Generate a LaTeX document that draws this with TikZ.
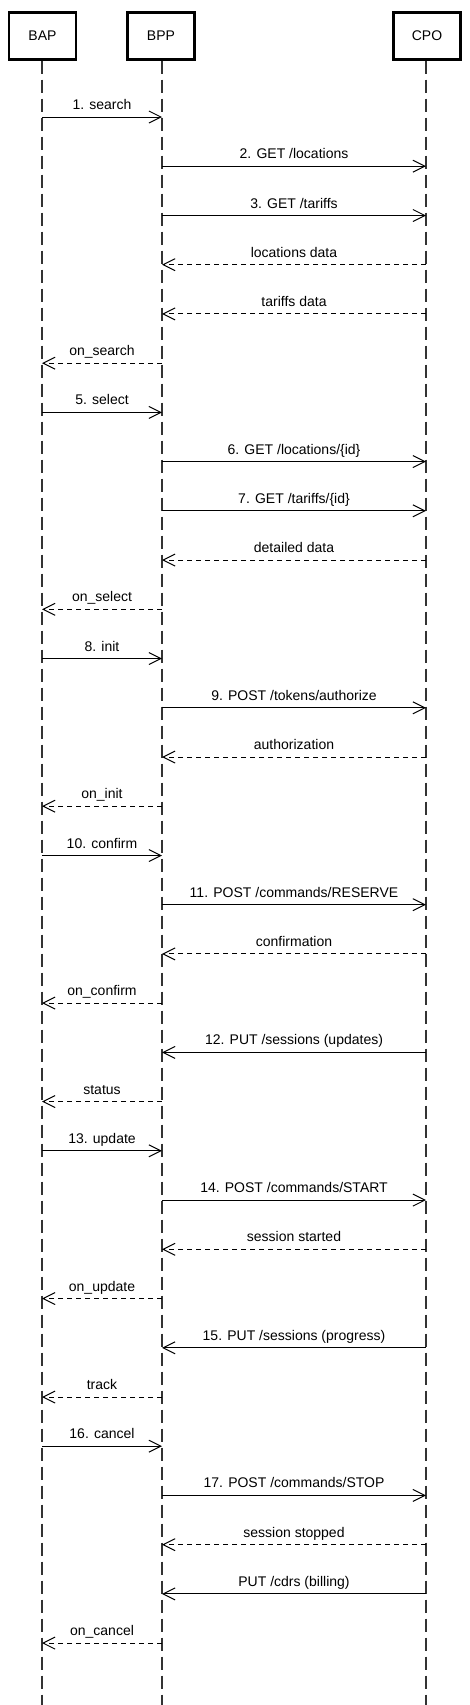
\documentclass[tikz,border=0pt]{standalone}
\usepackage{fontspec}
\setmainfont{Liberation Sans}
\usetikzlibrary{arrows.meta,positioning}

\definecolor{lifegray}{HTML}{333333}

\tikzset{
  actor/.style={draw, line width=2.3pt, minimum width=67pt, minimum height=47pt, inner sep=0pt},
  life/.style={lifegray, line width=1.8pt, dash pattern=on 13pt off 6pt},
  call/.style={line width=1pt, -{Straight Barb[length=12pt,width=12pt]}},
  reply/.style={call, dash pattern=on 5pt off 4pt},
  lbl/.style={midway, above=7pt, inner sep=0pt, text depth=0pt}
}

\begin{document}
\begin{tikzpicture}[x=1pt, y=-1pt, font=\fontsize{14}{16}\selectfont]
        \useasboundingbox (0,0) rectangle (469,1705);

        % participants
        \node[actor] (bap) at (42.5,36) {BAP};
        \node[actor] (bpp) at (161,36) {BPP};
        \node[actor] (cpo) at (427,36) {CPO};

        \coordinate (bapend) at (42,1705);
        \coordinate (bppend) at (162,1705);
        \coordinate (cpoend) at (426,1705);

        \draw[life] (bapend |- bap.south) -- (bapend);
        \draw[life] (bppend |- bpp.south) -- (bppend);
        \draw[life] (cpoend |- cpo.south) -- (cpoend);

        % search
        \draw[call]  (bapend |- 0,117)   -- (bppend |- 0,117)   node[lbl] {1. search};
        \draw[call]  (bppend |- 0,166.2) -- (cpoend |- 0,166.2) node[lbl] {2. GET /locations};
        \draw[call]  (bppend |- 0,215.5) -- (cpoend |- 0,215.5) node[lbl] {3. GET /tariffs};
        \draw[reply] (cpoend |- 0,264.7) -- (bppend |- 0,264.7) node[lbl] {locations data};
        \draw[reply] (cpoend |- 0,313.9) -- (bppend |- 0,313.9) node[lbl] {tariffs data};
        \draw[reply] (bppend |- 0,363.2) -- (bapend |- 0,363.2) node[lbl] {on\_search};

        % select
        \draw[call]  (bapend |- 0,412.4) -- (bppend |- 0,412.4) node[lbl] {5. select};
        \draw[call]  (bppend |- 0,461.6) -- (cpoend |- 0,461.6) node[lbl] {6. GET /locations/\{id\}};
        \draw[call]  (bppend |- 0,510.8) -- (cpoend |- 0,510.8) node[lbl] {7. GET /tariffs/\{id\}};
        \draw[reply] (cpoend |- 0,560.1) -- (bppend |- 0,560.1) node[lbl] {detailed data};
        \draw[reply] (bppend |- 0,609.3) -- (bapend |- 0,609.3) node[lbl] {on\_select};

        % init
        \draw[call]  (bapend |- 0,658.5) -- (bppend |- 0,658.5) node[lbl] {8. init};
        \draw[call]  (bppend |- 0,707.8) -- (cpoend |- 0,707.8) node[lbl] {9. POST /tokens/authorize};
        \draw[reply] (cpoend |- 0,757.0) -- (bppend |- 0,757.0) node[lbl] {authorization};
        \draw[reply] (bppend |- 0,806.2) -- (bapend |- 0,806.2) node[lbl] {on\_init};

        % confirm
        \draw[call]  (bapend |- 0,855.5) -- (bppend |- 0,855.5) node[lbl] {10. confirm};
        \draw[call]  (bppend |- 0,904.7) -- (cpoend |- 0,904.7) node[lbl] {11. POST /commands/RESERVE};
        \draw[reply] (cpoend |- 0,953.9) -- (bppend |- 0,953.9) node[lbl] {confirmation};
        \draw[reply] (bppend |- 0,1003.1) -- (bapend |- 0,1003.1) node[lbl] {on\_confirm};
        \draw[call]  (cpoend |- 0,1052.4) -- (bppend |- 0,1052.4) node[lbl] {12. PUT /sessions (updates)};
        \draw[reply] (bppend |- 0,1101.6) -- (bapend |- 0,1101.6) node[lbl] {status};

        % update
        \draw[call]  (bapend |- 0,1150.8) -- (bppend |- 0,1150.8) node[lbl] {13. update};
        \draw[call]  (bppend |- 0,1200.1) -- (cpoend |- 0,1200.1) node[lbl] {14. POST /commands/START};
        \draw[reply] (cpoend |- 0,1249.3) -- (bppend |- 0,1249.3) node[lbl] {session started};
        \draw[reply] (bppend |- 0,1298.5) -- (bapend |- 0,1298.5) node[lbl] {on\_update};
        \draw[call]  (cpoend |- 0,1347.8) -- (bppend |- 0,1347.8) node[lbl] {15. PUT /sessions (progress)};
        \draw[reply] (bppend |- 0,1397.0) -- (bapend |- 0,1397.0) node[lbl] {track};

        % cancel
        \draw[call]  (bapend |- 0,1446.2) -- (bppend |- 0,1446.2) node[lbl] {16. cancel};
        \draw[call]  (bppend |- 0,1495.4) -- (cpoend |- 0,1495.4) node[lbl] {17. POST /commands/STOP};
        \draw[reply] (cpoend |- 0,1544.7) -- (bppend |- 0,1544.7) node[lbl] {session stopped};
        \draw[call]  (cpoend |- 0,1593.9) -- (bppend |- 0,1593.9) node[lbl] {PUT /cdrs (billing)};
        \draw[reply] (bppend |- 0,1643.1) -- (bapend |- 0,1643.1) node[lbl] {on\_cancel};
    \end{tikzpicture}
\end{document}
